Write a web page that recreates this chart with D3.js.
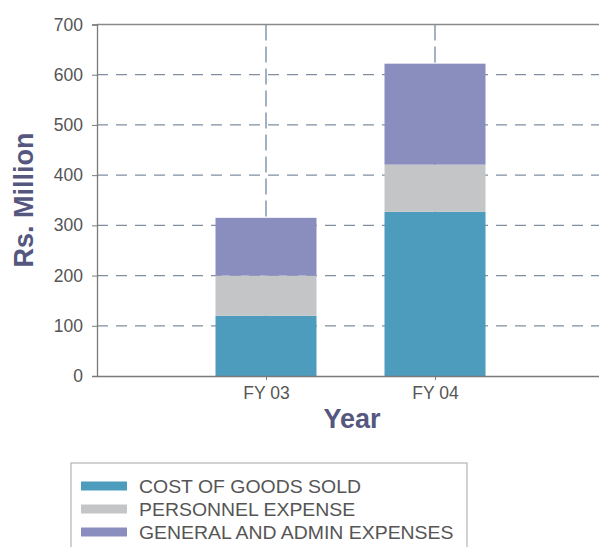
<!DOCTYPE html>
<html><head><meta charset="utf-8">
<script src="https://cdn.jsdelivr.net/npm/d3@7"></script>
<style>body{margin:0;background:#fff;} text{font-family:Arial,"Liberation Sans",sans-serif;}</style>
</head><body>
<svg id="c" width="599" height="547"></svg>
<script>
const categories = ["FY 03", "FY 04"];
const seriesNames = ["COST OF GOODS SOLD", "PERSONNEL EXPENSE", "GENERAL AND ADMIN EXPENSES"];
const costOfGoods = [120, 327];
const personnel = [80, 94];
const generalAdmin = [115, 201];
const yTicks = [0, 100, 200, 300, 400, 500, 600, 700];
const colors = ["#4d9cbd", "#c3c5c7", "#8a8ebf"];

const svg = d3.select("#c");
const L = 97, T = 24.5, B = 376, R = 604;
const x = d3.scaleLinear().domain([0, 3]).range([L, R]);
const y = d3.scaleLinear().domain([0, 700]).range([B, T]);
const barW = 101;
const FONT = "Arial, 'Liberation Sans', sans-serif";

// horizontal gridlines
svg.append("g").selectAll("line").data(yTicks.filter(d => d > 0 && d < 700)).join("line")
  .attr("x1", L).attr("x2", 599).attr("y1", d => y(d)).attr("y2", d => y(d))
  .attr("stroke", "#7f8fa0").attr("stroke-width", 1.3).attr("stroke-dasharray", "11,8");
// vertical gridlines
svg.append("g").selectAll("line").data(categories).join("line")
  .attr("x1", (d, i) => x(i + 1)).attr("x2", (d, i) => x(i + 1))
  .attr("y1", T).attr("y2", B)
  .attr("stroke", "#6f8aa3").attr("stroke-width", 1.3).attr("stroke-dasharray", "16,6");

// stacked bars
const rows = categories.map((c, i) => ({cat: c, i, v: [costOfGoods[i], personnel[i], generalAdmin[i]]}));
const stack = d3.stack().keys([0, 1, 2]).value((d, k) => d.v[k]);
const stacked = stack(rows);
stacked.forEach((layer, k) => {
  svg.append("g").selectAll("rect").data(layer).join("rect")
    .attr("x", d => x(d.data.i + 1) - barW / 2).attr("width", barW)
    .attr("y", d => y(d[1])).attr("height", d => y(d[0]) - y(d[1]))
    .attr("fill", colors[k]);
});

// top border
svg.append("line").attr("x1", L).attr("x2", 599).attr("y1", y(700)).attr("y2", y(700))
  .attr("stroke", "#8a8a8a").attr("stroke-width", 1.3);

// y axis
const yAxis = d3.axisLeft(y).tickValues(yTicks).tickSize(5).tickPadding(9);
const ga = svg.append("g").attr("transform", `translate(${L},0)`).call(yAxis);
ga.select(".domain").attr("stroke", "#7a7a7a").attr("stroke-width", 1.3);
ga.selectAll(".tick line").attr("stroke", "#7a7a7a");
ga.selectAll(".tick text").attr("fill", "#555").style("font-size", "17.5px").style("font-family", FONT);

// x axis
const xAxis = d3.axisBottom(x).tickValues([1, 2]).tickFormat(d => categories[d - 1]).tickSize(4).tickPadding(7).tickSizeOuter(0);
const gx = svg.append("g").attr("transform", `translate(0,${B})`).call(xAxis);
gx.select(".domain").attr("stroke", "#7a7a7a").attr("stroke-width", 1.3);
gx.selectAll(".tick line").attr("stroke", "#7a7a7a");
gx.selectAll(".tick text").attr("fill", "#555").style("font-size", "17.5px").style("font-family", FONT);

// axis titles
svg.append("text").attr("x", 352).attr("y", 428).attr("text-anchor", "middle")
  .attr("fill", "#55577f").style("font-size", "27px").style("font-weight", "bold").text("Year");
svg.append("text").attr("transform", "translate(33,200) rotate(-90)").attr("text-anchor", "middle")
  .attr("fill", "#55577f").style("font-size", "27px").style("font-weight", "bold").text("Rs. Million");

// legend
svg.append("rect").attr("x", 71).attr("y", 463).attr("width", 396).attr("height", 100)
  .attr("fill", "#fff").attr("stroke", "#b5b5b5").attr("stroke-width", 1.2);
const lg = svg.append("g").selectAll("g").data(seriesNames).join("g")
  .attr("transform", (d, i) => `translate(81,${486 + i * 23})`);
lg.append("rect").attr("x", 0).attr("y", -4.5).attr("width", 46).attr("height", 9).attr("fill", (d, i) => colors[i]);
lg.append("text").attr("transform", "translate(58,6.5) scale(1.08,1)").attr("fill", "#555")
  .style("font-size", "18px").text(d => d);
</script>
</body></html>
